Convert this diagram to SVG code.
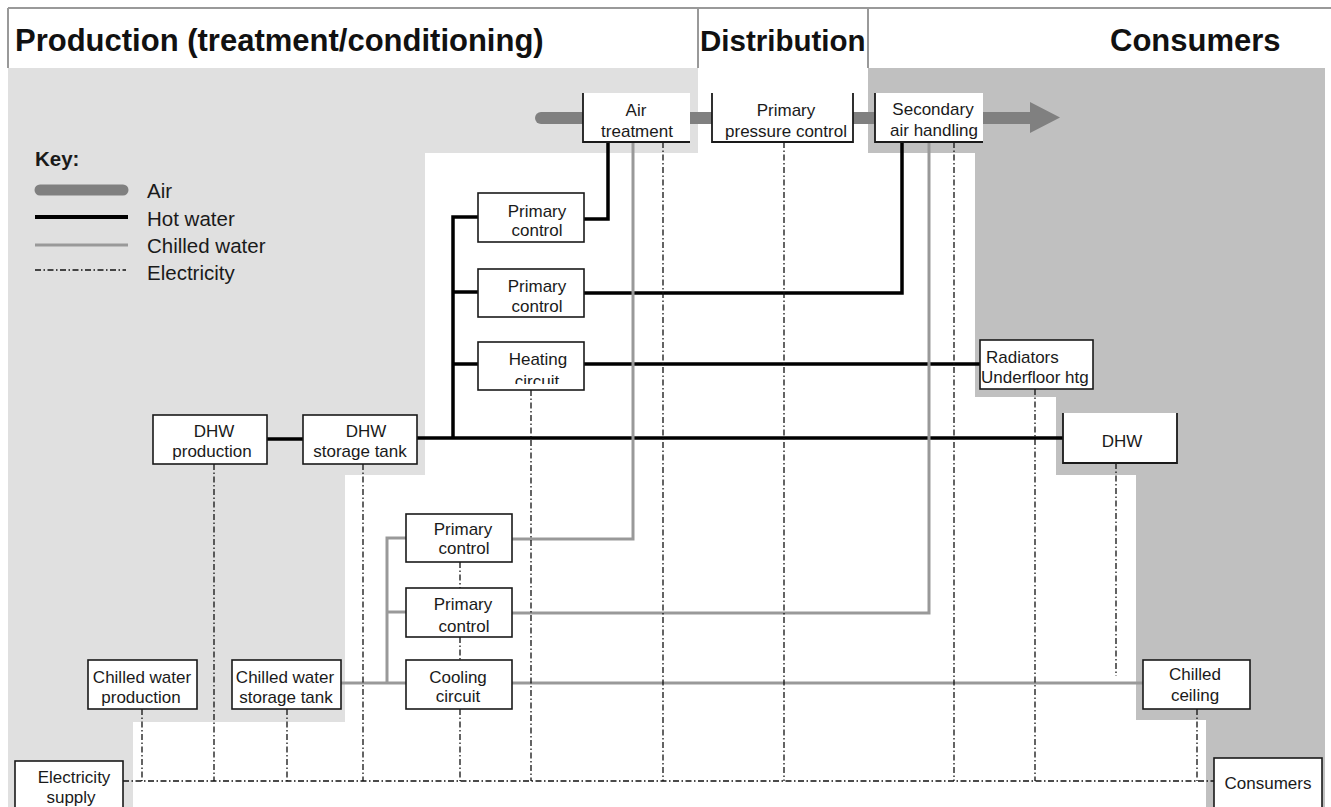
<svg xmlns="http://www.w3.org/2000/svg" width="1331" height="807" viewBox="0 0 1331 807">
<style>
.box{fill:#fff;stroke:#1a1a1a;stroke-width:1.6}
.open{fill:none;stroke:#1a1a1a;stroke-width:1.8}
.t{font-family:"Liberation Sans",Arial,sans-serif;font-size:17px;fill:#1a1a1a;text-anchor:middle}
.tl{font-family:"Liberation Sans",Arial,sans-serif;font-size:17px;fill:#1a1a1a}
.key{font-family:"Liberation Sans",Arial,sans-serif;font-size:20.5px;fill:#1a1a1a}
.hdr{font-family:"Liberation Sans",Arial,sans-serif;font-weight:bold;fill:#111}
.hot{fill:none;stroke:#000;stroke-width:3.5}
.cold{fill:none;stroke:#999;stroke-width:3}
.elec{fill:none;stroke:#111;stroke-width:1.3;stroke-dasharray:6 2.5 1.5 2.5}
.air{fill:none;stroke:#808080;stroke-width:12}
</style>
<defs>
<clipPath id="hcclip"><rect x="479" y="343" width="104" height="41"/></clipPath>
</defs>
<rect x="0" y="0" width="1331" height="807" fill="#fff"/>
<g id="background">
<polygon points="8,68 698,68 698,153 425,153 425,475 345,475 345,722 133,722 133,807 8,807" fill="#e0e0e0"/>
<polygon points="868,68 1325,68 1325,807 1206,807 1206,720 1136,720 1136,475 1056,475 1056,397 975,397 975,153 868,153" fill="#c0c0c0"/>
<path d="M8 8 H1331 M8 8 V68 M698 8 V68 M868 8 V68" fill="none" stroke="#999" stroke-width="2"/>
<text class="hdr" x="15" y="51" font-size="31">Production (treatment/conditioning)</text>
<text class="hdr" x="700" y="51" font-size="29.5">Distribution</text>
<text class="hdr" x="1110" y="51" font-size="31">Consumers</text>
</g>
<g id="key">
<text class="key" x="35" y="166" font-weight="bold" font-size="20">Key:</text>
<line x1="40" y1="190" x2="123" y2="190" stroke="#808080" stroke-width="11" stroke-linecap="round"/>
<line x1="35" y1="217" x2="128" y2="217" stroke="#000" stroke-width="4"/>
<line x1="35" y1="245" x2="128" y2="245" stroke="#999" stroke-width="3"/>
<line x1="35" y1="270" x2="126" y2="270" class="elec"/>
<text class="key" x="147" y="198">Air</text>
<text class="key" x="147" y="226">Hot water</text>
<text class="key" x="147" y="253">Chilled water</text>
<text class="key" x="147" y="280">Electricity</text>
</g>
<g id="connectors">
<path class="air" d="M541 118 H1032" stroke-linecap="butt"/>
<circle cx="541" cy="118" r="6" fill="#808080"/>
<polygon points="1030,102 1060,117.5 1030,133" fill="#808080"/>
<path class="hot" d="M478 217 H453 V438 M453 292 H478 M453 364 H478 M584 219 H608 V142 M584 293 H902 V142 M584 364 H980"/>
<path class="hot" d="M267 439 H303" stroke-width="2.8"/>
<path class="hot" d="M417 438 H1063" stroke-width="3"/>
<path class="cold" d="M633 142 V539 H512 M929 142 V613 H512 M406 538 H387 V683 M387 612 H406 M341 683 H406 M512 683 H1143"/>
<path class="elec" d="M142 709 V781 M214 464 V781 M287 709 V781 M363 464 V781 M460 562 V588 M460 637 V660 M460 709 V781 M531 390 V781 M663 142 V781 M784 142 V781 M954 142 V781 M1035 389 V781 M1116 463 V676 M1197 709 V781 M123 781 H1214"/>
</g>
<g id="air-treatment">
<rect x="583" y="93" width="107" height="49" fill="#fff"/>
<path class="open" d="M583 93 V142 H690"/>
<text class="t" x="636" y="116">Air</text>
<text class="t" x="637" y="137">treatment</text>
</g>
<g id="primary-pressure-control">
<rect x="712" y="93" width="141" height="49" fill="#fff"/>
<path class="open" d="M712 93 V142 H853 V93"/>
<text class="t" x="786" y="116">Primary</text>
<text class="t" x="786" y="137">pressure control</text>
</g>
<g id="secondary-air-handling">
<rect x="875" y="93" width="108" height="49" fill="#fff"/>
<path class="open" d="M875 93 V142 H983"/>
<text class="t" x="933" y="115">Secondary</text>
<text class="t" x="934" y="136">air handling</text>
</g>
<g id="primary-control-1">
<rect class="box" x="478" y="193" width="106" height="49"/>
<text class="t" x="537" y="217">Primary</text>
<text class="t" x="537" y="236">control</text>
</g>
<g id="primary-control-2">
<rect class="box" x="478" y="269" width="106" height="48"/>
<text class="t" x="537" y="292">Primary</text>
<text class="t" x="537" y="312">control</text>
</g>
<g id="heating-circuit">
<rect class="box" x="478" y="342" width="106" height="48"/>
<text class="t" x="538" y="365">Heating</text>
<text class="t" x="537" y="387" clip-path="url(#hcclip)">circuit</text>
</g>
<g id="radiators">
<rect class="box" x="980" y="340" width="113" height="49"/>
<text class="tl" x="986" y="363">Radiators</text>
<text class="tl" x="981" y="383" font-size="16.5">Underfloor htg</text>
</g>
<g id="dhw-production">
<rect class="box" x="153" y="415" width="114" height="49"/>
<text class="t" x="214" y="437">DHW</text>
<text class="t" x="212" y="457">production</text>
</g>
<g id="dhw-storage-tank">
<rect class="box" x="303" y="415" width="114" height="49"/>
<text class="t" x="366" y="437">DHW</text>
<text class="t" x="360" y="457">storage tank</text>
</g>
<g id="dhw">
<rect x="1063" y="413" width="114" height="50" fill="#fff"/>
<path class="open" d="M1063 413 V463 H1177 V413"/>
<text class="t" x="1122" y="447">DHW</text>
</g>
<g id="primary-control-3">
<rect class="box" x="406" y="514" width="106" height="48"/>
<text class="t" x="463" y="535">Primary</text>
<text class="t" x="464" y="554">control</text>
</g>
<g id="primary-control-4">
<rect class="box" x="406" y="588" width="106" height="49"/>
<text class="t" x="463" y="610">Primary</text>
<text class="t" x="464" y="632">control</text>
</g>
<g id="cooling-circuit">
<rect class="box" x="406" y="660" width="106" height="49"/>
<text class="t" x="458" y="683">Cooling</text>
<text class="t" x="458" y="702">circuit</text>
</g>
<g id="chilled-water-production">
<rect class="box" x="88" y="660" width="109" height="49"/>
<text class="t" x="142" y="683">Chilled water</text>
<text class="t" x="141" y="703">production</text>
</g>
<g id="chilled-water-storage-tank">
<rect class="box" x="232" y="660" width="109" height="49"/>
<text class="t" x="285" y="683">Chilled water</text>
<text class="t" x="286" y="703">storage tank</text>
</g>
<g id="chilled-ceiling">
<rect class="box" x="1143" y="660" width="107" height="49"/>
<text class="t" x="1195" y="680">Chilled</text>
<text class="t" x="1195" y="701">ceiling</text>
</g>
<g id="electricity-supply">
<rect class="box" x="15" y="761" width="108" height="52"/>
<text class="t" x="74" y="783">Electricity</text>
<text class="t" x="71" y="803">supply</text>
</g>
<g id="consumers">
<rect class="box" x="1214" y="758" width="108" height="55"/>
<text class="t" x="1268" y="789">Consumers</text>
</g>
</svg>
